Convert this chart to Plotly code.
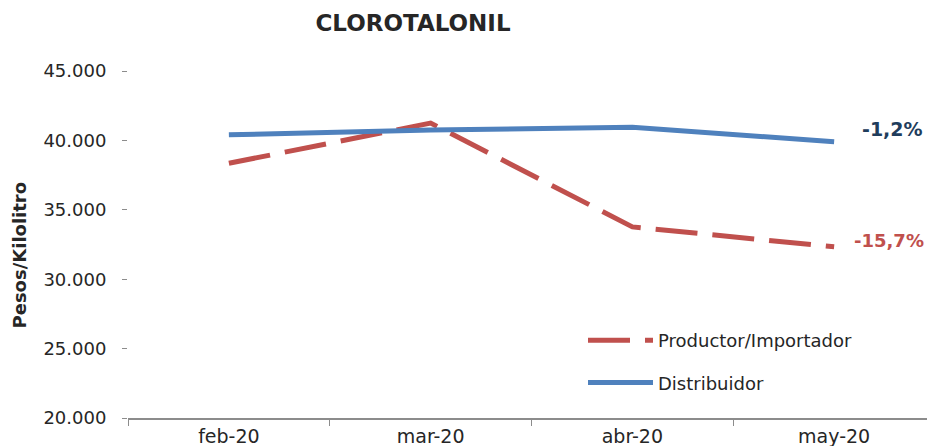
import plotly.graph_objects as go

categories = ["feb-20", "mar-20", "abr-20", "may-20"]
productor = [38350, 41250, 33770, 32330]
distribuidor = [40400, 40750, 40950, 39900]
y_ticks = [20000, 25000, 30000, 35000, 40000, 45000]
y_tick_labels = ["20.000", "25.000", "30.000", "35.000", "40.000", "45.000"]

FONT = "'DejaVu Sans', sans-serif"
RED = "#C0504D"
BLUE = "#4F81BD"
TXT = "#262626"

# The page body has an 8px margin, so the figure is sized/placed to compensate.
W, H = 927, 438
L, T, R, B = 120, 63, 0, 28
PW, PH = W - L - R, H - T - B

def pct(series):
    v = (series[-1] / series[0] - 1) * 100
    return f"{v:.1f}%".replace(".", ",")

fig = go.Figure()
fig.add_trace(go.Scatter(
    x=categories, y=productor, mode="lines", name="Productor/Importador",
    legendgroup="p", line=dict(color=RED, width=5, dash="42px,15px")))
fig.add_trace(go.Scatter(
    x=categories, y=distribuidor, mode="lines", name="Distribuidor",
    legendgroup="d", line=dict(color=BLUE, width=5)))

fig.add_annotation(x=categories[-1], y=distribuidor[-1], xref="x", yref="y",
                   text=f"<b>{pct(distribuidor)}</b>", showarrow=False,
                   xshift=58, yshift=13, font=dict(family=FONT, size=19, color="#1F3D5C"))
fig.add_annotation(x=categories[-1], y=productor[-1], xref="x", yref="y",
                   text=f"<b>{pct(productor)}</b>", showarrow=False,
                   xshift=55, yshift=6, font=dict(family=FONT, size=18, color=RED))

# y-axis title at page x~18, y~255
fig.add_annotation(x=(10 - L) / PW, y=(H - B - 247) / PH, xref="paper", yref="paper",
                   text="<b>Pesos/Kilolitro</b>", showarrow=False, textangle=-90,
                   xshift=-12,
                   font=dict(family=FONT, size=18, color=TXT))

fig.update_layout(
    width=W, height=H,
    margin=dict(l=L, r=R, t=T, b=B, autoexpand=False),
    paper_bgcolor="white", plot_bgcolor="white",
    title=dict(text="<b>CLOROTALONIL</b>", x=405 / W, xanchor="center",
               y=1 - 15 / H, yanchor="middle",
               font=dict(family=FONT, size=23, color=TXT)),
    showlegend=True,
    legend=dict(x=(583 - 8 - L) / PW, y=(H - B - 314) / PH, xanchor="left", yanchor="top",
                bgcolor="rgba(0,0,0,0)", tracegroupgap=16, itemwidth=65,
                font=dict(family=FONT, size=18, color=TXT)),
    xaxis=dict(type="category", range=[-0.5, 3.5], showgrid=False,
               showline=True, linecolor="#8C8C8C", linewidth=1.5,
               ticks="outside", tickson="boundaries", ticklen=6, tickcolor="#8C8C8C",
               tickfont=dict(family=FONT, size=19, color=TXT)),
    yaxis=dict(range=[20000, 45000], tickvals=y_ticks, ticktext=y_tick_labels,
               showgrid=False, zeroline=False, showline=False,
               ticks="outside", ticklen=5, tickcolor="#8C8C8C",
               ticklabelstandoff=12,
               tickfont=dict(family=FONT, size=18, color=TXT)),
)

fig.write_html("out.html")
